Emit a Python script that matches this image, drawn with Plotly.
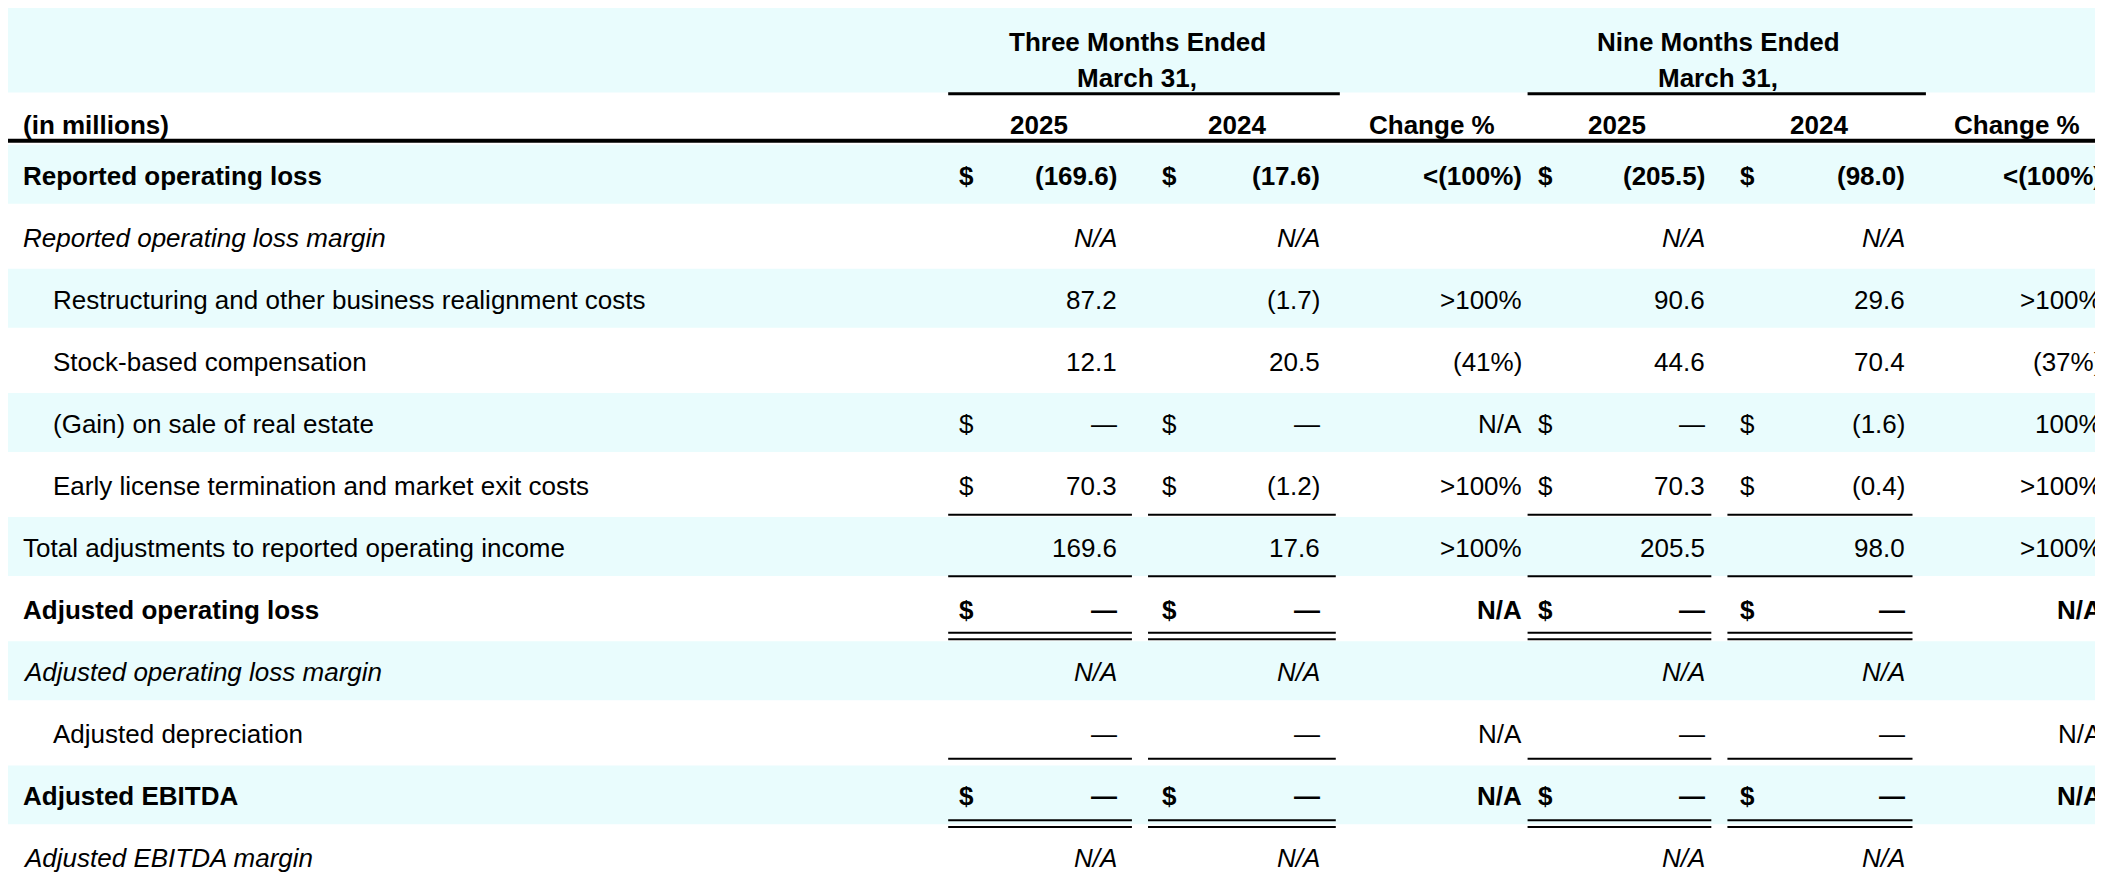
import plotly.graph_objects as go

W, H = 1568, 652  # layout units (scaled to 2103x874 by the axes)
labels = ["Reported operating loss", "Reported operating loss margin",
          "Restructuring and other business realignment costs", "Stock-based compensation",
          "(Gain) on sale of real estate", "Early license termination and market exit costs",
          "Total adjustments to reported operating income", "Adjusted operating loss",
          "Adjusted operating loss margin", "Adjusted depreciation", "Adjusted EBITDA",
          "Adjusted EBITDA margin"]
styles = ["b", "i", "n", "n", "n", "n", "n", "b", "i", "n", "b", "i"]
indent = [0, 0, 1, 1, 1, 1, 0, 0, 0, 1, 0, 0]
dollar = [1, 0, 0, 0, 1, 1, 0, 1, 0, 0, 1, 0]
q25 = ["(169.6)", "N/A", "87.2", "12.1", "—", "70.3", "169.6", "—", "N/A", "—", "—", "N/A"]
q24 = ["(17.6)", "N/A", "(1.7)", "20.5", "—", "(1.2)", "17.6", "—", "N/A", "—", "—", "N/A"]
qchg = ["<(100%)", "", ">100%", "(41%)", "N/A", ">100%", ">100%", "N/A", "", "N/A", "N/A", ""]
n25 = ["(205.5)", "N/A", "90.6", "44.6", "—", "70.3", "205.5", "—", "N/A", "—", "—", "N/A"]
n24 = ["(98.0)", "N/A", "29.6", "70.4", "(1.6)", "(0.4)", "98.0", "—", "N/A", "—", "—", "N/A"]
nchg = ["<(100%)", "", ">100%", "(37%)", "100%", ">100%", ">100%", "N/A", "", "N/A", "N/A", ""]
# 9M 2024 dollar for gain row
dollar_n24 = [1, 0, 0, 0, 1, 1, 0, 1, 0, 0, 1, 0]
dollar_n25 = [1, 0, 0, 0, 1, 1, 0, 1, 0, 0, 1, 0]

FONT = "Liberation Sans, Arial, sans-serif"
FS = 26
CY = "#e9fcfd"
row_y = [125 + 46.3 * i for i in range(12)]

fig = go.Figure()
fig.add_trace(go.Scatter(x=[0, W], y=[0, H], mode="markers", marker=dict(opacity=0), hoverinfo="skip"))
shapes, ann = [], []

def txt(x, y, t, anchor="left", style="n", underline=False):
    if not t:
        return
    s = t
    if style == "b":
        s = "<b>" + s + "</b>"
    elif style == "i":
        s = "<i>" + s + "</i>"
    if underline:
        s = "<u>" + s + "</u>"
    ann.append(dict(x=x, y=y, xref="x", yref="y", text=s, showarrow=False, xanchor=anchor,
                    yanchor="middle", font=dict(family=FONT, size=FS, color="black")))

def line(x0, x1, y, w=2):
    shapes.append(dict(type="line", xref="x", yref="y", x0=x0, x1=x1, y0=y, y1=y,
                       line=dict(color="black", width=w)))

# backgrounds
shapes.append(dict(type="rect", xref="x", yref="y", x0=0, x1=W, y0=0, y1=63, fillcolor=CY, line_width=0, layer="below"))
for i, y in enumerate(row_y):
    if i % 2 == 0:
        shapes.append(dict(type="rect", xref="x", yref="y", x0=0, x1=W, y0=y - 23, y1=y + 21,
                           fillcolor=CY, line_width=0, layer="below"))

# headers
txt(842, 25, "Three Months Ended", "center", "b")
txt(842, 52, "March 31,", "center", "b")
txt(1275, 25, "Nine Months Ended", "center", "b")
txt(1275, 52, "March 31,", "center", "b")
line(701, 993, 64, 3)
line(1133, 1430, 64, 3)
txt(10, 87, "(in millions)", "left", "b")
for cx, t in [(769, "2025"), (916, "2024"), (1062, "Change %"), (1200, "2025"), (1350, "2024"), (1498, "Change %")]:
    txt(cx, 87, t, "center", "b")
line(0, W, 99, 4)

cols = [(701, 838, 715, 828), (850, 990, 866, 980), (1133, 1270, 1146, 1267), (1282, 1420, 1297, 1416)]
chg_right = [1130, 1563]
for i, y in enumerate(row_y):
    st = styles[i]
    txt(32 if indent[i] else 10, y, labels[i], "left", st)
    vals = [q25[i], q24[i], n25[i], n24[i]]
    dl = [dollar[i], dollar[i], dollar_n25[i], dollar_n24[i]]
    vstyle = "b" if st == "b" else ("i" if st == "i" else "n")
    for (x0, x1, xd, xr), v, d in zip(cols, vals, dl):
        if d:
            txt(xd, y, "$", "center", "b" if st == "b" else "n")
        txt(xr, y, v, "right", vstyle)
    txt(chg_right[0], y, qchg[i], "right", "b" if st == "b" else "n")
    txt(chg_right[1], y, nchg[i], "right", "b" if st == "b" else "n")

for (x0, x1, xd, xr) in cols:
    line(x0, x1, 378)
    line(x0, x1, 424)
    line(x0, x1, 466)
    line(x0, x1, 471)
    line(x0, x1, 560)
    line(x0, x1, 606)
    line(x0, x1, 611)

fig.update_layout(width=2103, height=874, margin=dict(l=0, r=0, t=0, b=0),
                  plot_bgcolor="white", paper_bgcolor="white", showlegend=False,
                  shapes=shapes, annotations=ann,
                  xaxis=dict(range=[0, W], visible=False, fixedrange=True),
                  yaxis=dict(range=[H, 0], visible=False, fixedrange=True))
fig.write_html("out.html", config={"displayModeBar": False})
